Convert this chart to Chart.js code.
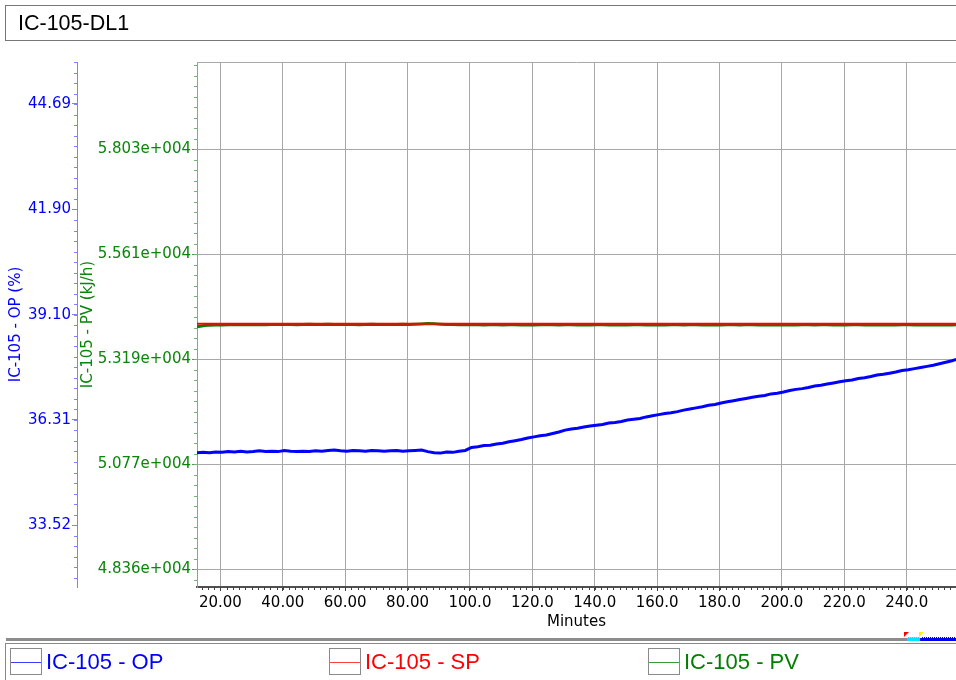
<!DOCTYPE html>
<html>
<head>
<meta charset="utf-8">
<script src="https://cdn.jsdelivr.net/npm/chart.js@4.4.1/dist/chart.umd.min.js"></script>
<style>
    html, body { margin: 0; padding: 0; background: #fff; }
    body { width: 956px; height: 680px; position: relative; overflow: hidden; font-family: "Liberation Sans", Arial, sans-serif; }
    #title { position: absolute; left: 5px; top: 5px; width: 980px; border: 1px solid #777; box-sizing: border-box; height: 36px; font-size: 21.5px; line-height: 34px; padding-left: 12px; color: #000; }
    #chartWrap { position: absolute; left: 0; top: 0; width: 956px; height: 636px; }
    #scroll { position: absolute; left: 6px; top: 638px; width: 901px; height: 3px; background: #8c8c8c; }
    #scrollCyan { position: absolute; left: 907px; top: 637px; width: 13px; height: 4px; background: #00e5ff; border-top: 1px dotted #fff; box-sizing: border-box; }
    #scrollBlue { position: absolute; left: 920px; top: 637px; width: 36px; height: 4px; background: #0000ee; border-top: 1px dotted #fff; box-sizing: border-box; }
    .tri { position: absolute; top: 632px; width: 0; height: 0; border-top: 5px solid; border-right: 5px solid transparent; }
    #legend { position: absolute; left: 5px; top: 643px; width: 980px; height: 60px; border: 1px solid #888; box-sizing: border-box; }
    .item { position: absolute; top: 4px; height: 27px; font-size: 22px; line-height: 27px; white-space: nowrap; }
    .swatch { position: absolute; left: 0; top: 0; width: 32px; height: 27px; border: 1px solid #8a8a8a; box-sizing: border-box; }
    .swatch span { position: absolute; left: 0; right: 0; top: 13px; height: 1px; }
    .item .txt { position: absolute; left: 36px; top: 0; }
</style>
</head>
<body>
<div id="chartWrap"><canvas id="trendChart"></canvas></div>
<div id="title">IC-105-DL1</div>
<div id="scroll"></div>
<div id="scrollCyan"></div>
<div id="scrollBlue"></div>
<div class="tri" style="left:904px; border-top-color:#ff0000;"></div>
<div class="tri" style="left:919px; border-top-color:#ffee00;"></div>
<div id="legend"></div>
<script>
    // sample times (minutes), one sample every 2 minutes
    const sampleStart = 12.5;
    const sampleStep = 2;

    const opValues = [
        35.44, 35.45, 35.44, 35.46, 35.45, 35.47, 35.46, 35.48, 35.46, 35.47,
        35.49, 35.47, 35.48, 35.47, 35.50, 35.48, 35.47, 35.48, 35.47, 35.49,
        35.48, 35.50, 35.51, 35.49, 35.48, 35.50, 35.49, 35.48, 35.50, 35.49,
        35.48, 35.49, 35.50, 35.48, 35.49, 35.50, 35.51, 35.47, 35.44, 35.43,
        35.46, 35.45, 35.48, 35.50, 35.58, 35.60, 35.63, 35.64, 35.67, 35.69,
        35.73, 35.76, 35.79, 35.83, 35.86, 35.89, 35.91, 35.95, 35.99, 36.04,
        36.07, 36.09, 36.12, 36.15, 36.17, 36.19, 36.23, 36.24, 36.27, 36.31,
        36.33, 36.35, 36.39, 36.42, 36.45, 36.48, 36.50, 36.53, 36.57, 36.60,
        36.63, 36.66, 36.70, 36.72, 36.76, 36.79, 36.82, 36.85, 36.88, 36.91,
        36.94, 36.96, 37.00, 37.02, 37.05, 37.09, 37.12, 37.14, 37.17, 37.21,
        37.23, 37.26, 37.29, 37.32, 37.35, 37.37, 37.41, 37.43, 37.46, 37.50,
        37.52, 37.55, 37.58, 37.62, 37.64, 37.67, 37.70, 37.73, 37.76, 37.80,
        37.84, 37.88, 37.93
    ];

    const pvValues = [
        53935, 53960, 53975, 53980, 53978, 53985, 53982, 53988, 53984, 53986,
        53990, 53985, 53988, 53992, 53987, 53990, 53985, 53989, 53993, 53988,
        53991, 53995, 53990, 53987, 53992, 53989, 53986, 53990, 53993, 53988,
        53991, 53987, 53990, 53994, 53992, 53996, 54002, 54010, 54006, 53998,
        53992, 53988, 53985, 53982, 53986, 53983, 53980, 53985, 53982, 53978,
        53983, 53986, 53980, 53984, 53979, 53983, 53986, 53981, 53978, 53984,
        53982, 53977, 53983, 53980, 53985, 53981, 53978, 53984, 53980, 53976,
        53982, 53985, 53979, 53983, 53980, 53977, 53984, 53981, 53978, 53983,
        53986, 53980, 53977, 53983, 53979, 53984, 53981, 53976, 53982, 53985,
        53979, 53983, 53980, 53977, 53984, 53980, 53978, 53983, 53981, 53976,
        53982, 53985, 53979, 53983, 53977, 53981, 53984, 53978, 53982, 53979,
        53983, 53980, 53977, 53984, 53981, 53978, 53983, 53980, 53984, 53979,
        53982, 53980, 53983
    ];

    const spTimes = [12.5, 256.5];
    const spValues = [54005, 54005];

    const xTicks = [20, 40, 60, 80, 100, 120, 140, 160, 180, 200, 220, 240];
    const xTickLabels = ['20.00', '40.00', '60.00', '80.00', '100.0', '120.0', '140.0', '160.0', '180.0', '200.0', '220.0', '240.0'];

    const opTicks = [33.52, 36.31, 39.10, 41.90, 44.69];
    const opTickLabels = ['33.52', '36.31', '39.10', '41.90', '44.69'];

    const pvTicks = [48360, 50777, 53195, 55612, 58030];
    const pvTickLabels = ['4.836e+004', '5.077e+004', '5.319e+004', '5.561e+004', '5.803e+004'];

    const xRange = [12.5, 255.8];
    const opRange = [31.88, 45.80];
    const pvRange = [47946, 60033];

    const axisFont = { family: '"DejaVu Sans", sans-serif', size: 15 };

    function toPoints(times, values) {
        return values.map((v, i) => ({ x: times[i], y: v }));
    }
    const sampleTimes = opValues.map((_, i) => sampleStart + sampleStep * i);

    // small ticks between the labelled ones (ten divisions per step)
    const minorTicksPlugin = {
        id: 'minorTicks',
        afterDraw(chart) {
            const ctx = chart.ctx;
            const specs = [
                { id: 'x', majors: xTicks, color: '#404040' },
                { id: 'yOP', majors: opTicks, color: '#8080ff' },
                { id: 'yPV', majors: pvTicks, color: '#6fb86f' }
            ];
            ctx.save();
            ctx.lineWidth = 1;
            specs.forEach((s) => {
                const scale = chart.scales[s.id];
                const minor = (s.majors[1] - s.majors[0]) / 10;
                let v = s.majors[0] - Math.floor((s.majors[0] - scale.min) / minor) * minor;
                ctx.strokeStyle = s.color;
                ctx.beginPath();
                for (; v <= scale.max + 1e-9; v += minor) {
                    const p = Math.round(scale.getPixelForValue(v)) + 0.5;
                    if (s.id === 'x') {
                        ctx.moveTo(p, scale.top);
                        ctx.lineTo(p, scale.top + 3);
                    } else {
                        ctx.moveTo(scale.right - 3, p);
                        ctx.lineTo(scale.right, p);
                    }
                }
                ctx.stroke();
            });
            // light frame line along the top of the plot
            const a = chart.chartArea;
            ctx.strokeStyle = '#a8a8a8';
            ctx.beginPath();
            ctx.moveTo(a.left, a.top + 0.5);
            ctx.lineTo(a.right, a.top + 0.5);
            ctx.stroke();
            ctx.restore();
        }
    };

    new Chart(document.getElementById('trendChart'), {
        type: 'line',
        plugins: [minorTicksPlugin],
        data: {
            datasets: [
                {
                    label: 'IC-105 - SP',
                    data: toPoints(spTimes, spValues),
                    yAxisID: 'yPV',
                    borderColor: '#ff0000',
                    borderWidth: 2
                },
                {
                    label: 'IC-105 - PV',
                    data: toPoints(sampleTimes, pvValues),
                    yAxisID: 'yPV',
                    borderColor: '#008000',
                    borderWidth: 3
                },
                {
                    label: 'IC-105 - OP',
                    data: toPoints(sampleTimes, opValues),
                    yAxisID: 'yOP',
                    borderColor: '#0000ff',
                    borderWidth: 3
                }
            ]
        },
        options: {
            responsive: true,
            maintainAspectRatio: false,
            animation: false,
            events: [],
            layout: { padding: { top: 62, left: 0, right: 0, bottom: 0 } },
            elements: { point: { radius: 0 }, line: { tension: 0 } },
            plugins: { legend: { display: false }, tooltip: { enabled: false } },
            scales: {
                x: {
                    type: 'linear',
                    position: 'bottom',
                    min: xRange[0],
                    max: xRange[1],
                    afterBuildTicks: (scale) => { scale.ticks = xTicks.map((v) => ({ value: v })); },
                    afterFit: (scale) => { scale.height = 49; },
                    ticks: {
                        autoSkip: false,
                        maxRotation: 0,
                        padding: 3,
                        color: '#000',
                        font: axisFont,
                        callback: (value, index) => xTickLabels[index]
                    },
                    grid: { color: '#a8a8a8', tickColor: '#404040', tickLength: 4 },
                    border: { color: '#505050', width: 2 },
                    title: { display: true, text: 'Minutes', color: '#000', font: axisFont, padding: { top: 0, bottom: 5 } }
                },
                yOP: {
                    type: 'linear',
                    position: 'left',
                    weight: 2,
                    min: opRange[0],
                    max: opRange[1],
                    afterBuildTicks: (scale) => { scale.ticks = opTicks.map((v) => ({ value: v })); },
                    afterFit: (scale) => { scale.width = 77; },
                    ticks: {
                        autoSkip: false,
                        padding: 1,
                        color: '#0000ff',
                        font: axisFont,
                        callback: (value, index) => opTickLabels[index]
                    },
                    grid: { drawOnChartArea: false, tickColor: '#8080ff', tickLength: 5 },
                    border: { color: '#8080ff', width: 1 },
                    title: { display: true, text: 'IC-105 - OP (%)', color: '#0000ff', font: axisFont, padding: { top: 7, bottom: 0 } }
                },
                yPV: {
                    type: 'linear',
                    position: 'left',
                    weight: 1,
                    min: pvRange[0],
                    max: pvRange[1],
                    afterBuildTicks: (scale) => { scale.ticks = pvTicks.map((v) => ({ value: v })); },
                    afterFit: (scale) => { scale.width = 120; },
                    ticks: {
                        autoSkip: false,
                        padding: 1,
                        color: '#0a860a',
                        font: axisFont,
                        callback: (value, index) => pvTickLabels[index]
                    },
                    grid: { color: '#a8a8a8', tickColor: '#4a9a4a', tickLength: 5 },
                    border: { color: '#6fb86f', width: 1 },
                    title: { display: true, text: 'IC-105 - PV (kJ/h)', color: '#0a860a', font: axisFont, padding: { top: 2, bottom: 0 } }
                }
            }
        }
    });

    // legend row below the trend
    const legendItems = [
        { text: 'IC-105 - OP', color: '#0000ff', line: '#3c3cff', left: 4 },
        { text: 'IC-105 - SP', color: '#ff0000', line: '#ff4040', left: 323 },
        { text: 'IC-105 - PV', color: '#008000', line: '#3a9a3a', left: 642 }
    ];
    const legend = document.getElementById('legend');
    legendItems.forEach((it) => {
        const el = document.createElement('div');
        el.className = 'item';
        el.style.left = it.left + 'px';
        el.innerHTML = '<div class="swatch"><span style="background:' + it.line + '"></span></div>' +
            '<div class="txt" style="color:' + it.color + '">' + it.text + '</div>';
        legend.appendChild(el);
    });
</script>
</body>
</html>
